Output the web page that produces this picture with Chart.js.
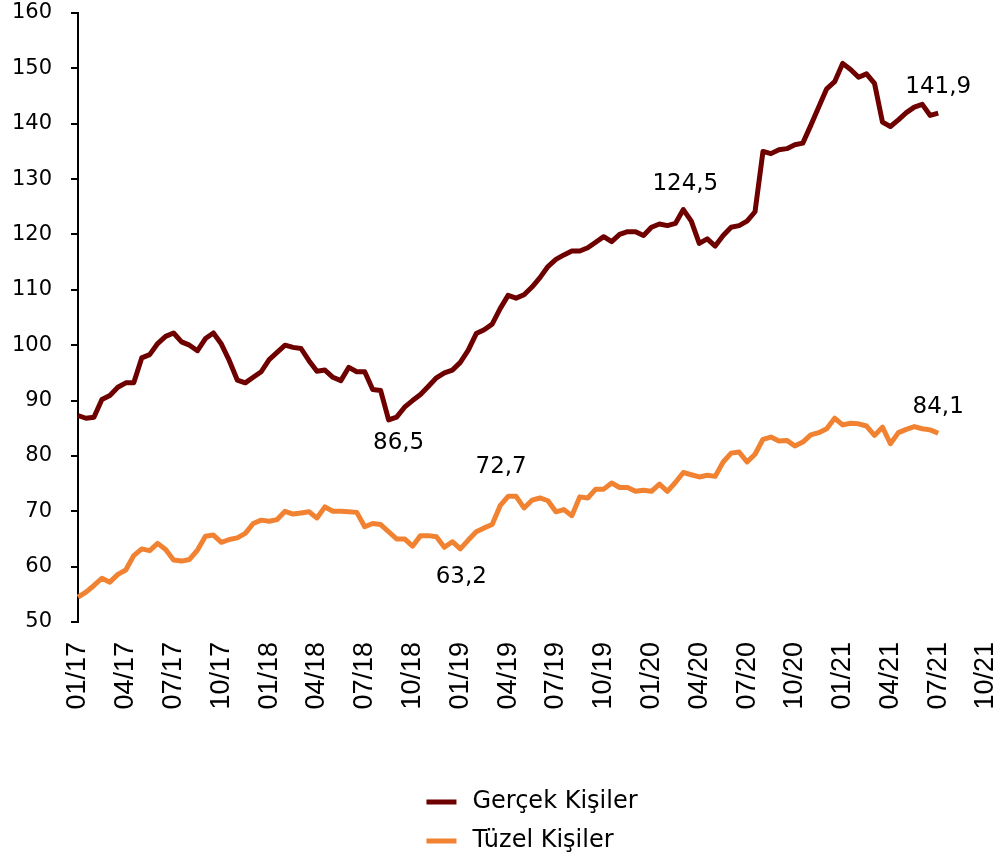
<!DOCTYPE html>
<html>
<head>
<meta charset="utf-8">
<script src="https://cdn.jsdelivr.net/npm/chart.js@4.4.0/dist/chart.umd.min.js"></script>
<style>
    html, body { margin: 0; padding: 0; background: #fff; }
</style>
</head>
<body>
<canvas id="grafico" width="999" height="859"></canvas>
<script>
// eixo x: rótulos trimestrais (cada trimestre = 6 períodos de meio mês)
const rotulosTrimestre = ['01/17', '04/17', '07/17', '10/17', '01/18', '04/18', '07/18', '10/18',
    '01/19', '04/19', '07/19', '10/19', '01/20', '04/20', '07/20', '10/20', '01/21', '04/21', '07/21', '10/21'];

const nomesSeries = ['Gerçek Kişiler', 'Tüzel Kişiler'];

// valores a cada meio mês, de 01/17 até 07/21
const gercekKisiler = [
    87.3, 86.8, 87.0, 90.2, 90.9, 92.4, 93.2, 93.2, 97.7, 98.3,
    100.3, 101.6, 102.2, 100.6, 100.0, 99.0, 101.2, 102.2, 100.2, 97.2,
    93.7, 93.2, 94.2, 95.2, 97.4, 98.7, 100.0, 99.6, 99.4, 97.2,
    95.3, 95.5, 94.2, 93.6, 96.0, 95.2, 95.2, 92.0, 91.8, 86.5,
    87.0, 88.8, 90.0, 91.1, 92.6, 94.1, 95.0, 95.5, 96.9, 99.1,
    102.1, 102.8, 103.8, 106.6, 109.0, 108.5, 109.1, 110.5, 112.2, 114.2,
    115.5, 116.3, 117.0, 117.0, 117.6, 118.6, 119.6, 118.7, 120.0, 120.5,
    120.5, 119.8, 121.3, 121.9, 121.6, 122.0, 124.5, 122.4, 118.4, 119.2,
    117.9, 119.8, 121.3, 121.6, 122.4, 124.1, 135.0, 134.6, 135.3, 135.5,
    136.2, 136.5, 139.7, 143.0, 146.3, 147.6, 150.9, 149.8, 148.4, 149.0,
    147.3, 140.3, 139.5, 140.7, 142.0, 143.0, 143.5, 141.5, 141.9
];

const tuzelKisiler = [
    54.5, 55.4, 56.6, 57.9, 57.2, 58.6, 59.4, 62.0, 63.2, 62.9,
    64.2, 63.1, 61.2, 61.0, 61.3, 63.0, 65.5, 65.7, 64.4, 64.9,
    65.2, 66.0, 67.8, 68.4, 68.2, 68.5, 70.0, 69.5, 69.7, 69.9,
    68.8, 70.8, 70.0, 70.0, 69.9, 69.8, 67.2, 67.8, 67.6, 66.3,
    65.0, 65.0, 63.7, 65.6, 65.6, 65.4, 63.5, 64.5, 63.2, 64.8,
    66.3, 67.0, 67.6, 71.0, 72.7, 72.7, 70.6, 72.0, 72.4, 71.9,
    69.9, 70.3, 69.2, 72.6, 72.4, 74.0, 74.0, 75.1, 74.3, 74.3,
    73.6, 73.8, 73.6, 74.9, 73.6, 75.2, 77.0, 76.6, 76.2, 76.5,
    76.3, 78.9, 80.5, 80.7, 78.9, 80.3, 83.0, 83.4, 82.7, 82.8,
    81.8, 82.5, 83.8, 84.2, 84.9, 86.8, 85.6, 85.9, 85.8, 85.4,
    83.7, 85.2, 82.2, 84.2, 84.8, 85.3, 84.9, 84.7, 84.1
];

// rótulos de destaque: série, índice do ponto, texto
const destaqueSerie = [0, 0, 0, 1, 1, 1];
const destaqueIndice = [39, 76, 108, 54, 48, 108];
const destaqueTexto = ['86,5', '124,5', '141,9', '72,7', '63,2', '84,1'];
const destaqueDesloc = [[10, 23], [2, -26], [0, -26], [-7, -29], [1, 28], [0, -26]];

// monta as categorias (meio mês) a partir dos trimestres
const periodos = [];
rotulosTrimestre.forEach(function (r, i) {
    periodos.push(r);
    if (i < rotulosTrimestre.length - 1) {
        for (let k = 0; k < 5; k++) periodos.push('');
    }
});

const fonteTexto = '"DejaVu Sans", sans-serif';

const pluginDestaques = {
    id: 'destaques',
    afterDatasetsDraw(chart) {
        const ctx = chart.ctx;
        ctx.save();
        ctx.font = '23px ' + fonteTexto;
        ctx.fillStyle = '#000';
        ctx.textAlign = 'center';
        ctx.textBaseline = 'middle';
        destaqueTexto.forEach(function (t, i) {
            const ponto = chart.getDatasetMeta(destaqueSerie[i]).data[destaqueIndice[i]];
            ctx.fillText(t, ponto.x + destaqueDesloc[i][0], ponto.y + destaqueDesloc[i][1]);
        });
        ctx.restore();
    }
};

const pluginLegenda = {
    id: 'legendaColuna',
    afterDraw(chart) {
        const ctx = chart.ctx;
        const area = chart.chartArea;
        ctx.save();
        ctx.font = '24px ' + fonteTexto;
        let larguraTexto = 0;
        chart.data.datasets.forEach(function (ds) {
            larguraTexto = Math.max(larguraTexto, ctx.measureText(ds.label).width);
        });
        const amostra = 30, espaco = 16;
        const x0 = (area.left + area.right) / 2 - (amostra + espaco + larguraTexto) / 2;
        ctx.textBaseline = 'middle';
        ctx.textAlign = 'left';
        chart.data.datasets.forEach(function (ds, i) {
            const y = 802 + i * 39;
            ctx.strokeStyle = ds.borderColor;
            ctx.lineWidth = 5;
            ctx.beginPath();
            ctx.moveTo(x0, y);
            ctx.lineTo(x0 + amostra, y);
            ctx.stroke();
            ctx.fillStyle = '#000';
            ctx.fillText(ds.label, x0 + amostra + espaco, y);
        });
        ctx.restore();
    }
};

const ctx = document.getElementById('grafico').getContext('2d');
const grafico = new Chart(ctx, {
    type: 'line',
    data: {
        labels: periodos,
        datasets: [{
            label: nomesSeries[0],
            data: gercekKisiler,
            borderColor: '#6E0000',
            borderWidth: 5,
            pointRadius: 0,
            tension: 0,
            borderJoinStyle: 'round',
            fill: false
        }, {
            label: nomesSeries[1],
            data: tuzelKisiler,
            borderColor: '#F08232',
            borderWidth: 5,
            pointRadius: 0,
            tension: 0,
            borderJoinStyle: 'round',
            fill: false
        }]
    },
    options: {
        responsive: false,
        animation: false,
        layout: { padding: { left: 10, right: 13, top: 0, bottom: 149 } },
        plugins: {
            legend: { display: false },
            tooltip: { enabled: false }
        },
        scales: {
            x: {
                offset: false,
                border: { display: false },
                grid: { display: false, drawTicks: false },
                ticks: {
                    autoSkip: false,
                    maxRotation: 90,
                    minRotation: 90,
                    padding: 20,
                    color: '#000',
                    font: { family: '"Liberation Sans", Arial, sans-serif', size: 27 }
                },
                afterFit: function (escala) {
                    escala.height = 88;
                    escala.paddingLeft = 0;
                    escala.paddingRight = 0;
                }
            },
            y: {
                min: 50,
                max: 160,
                border: { display: true, color: '#000', width: 2 },
                grid: { drawOnChartArea: false, drawTicks: true, tickLength: 7, color: '#000', lineWidth: 2 },
                ticks: {
                    stepSize: 10,
                    padding: 19,
                    color: '#000',
                    font: { family: fonteTexto, size: 21 }
                },
                afterFit: function (escala) {
                    escala.width = 68;
                    escala.paddingTop = 13;
                    escala.paddingBottom = 0;
                }
            }
        }
    },
    plugins: [pluginDestaques, pluginLegenda]
});
</script>
</body>
</html>
